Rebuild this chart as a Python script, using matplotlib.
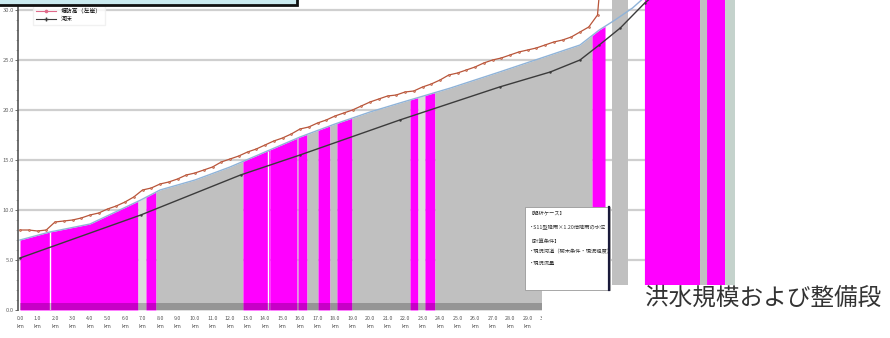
import numpy as np
import matplotlib
matplotlib.use("Agg")
import matplotlib.pyplot as plt
from matplotlib.patches import Rectangle
from matplotlib.lines import Line2D

plt.rcParams['font.family'] = ['Noto Sans CJK JP', 'DejaVu Sans']

# Computed water level along the channel (distance km, elevation m)
water_km = [0.0, 0.5, 1.0, 1.5, 2.0, 2.5, 3.0, 3.5, 4.0, 4.5, 5.0, 5.5, 6.0, 6.5,
            7.0, 7.5, 8.0, 8.5, 9.0, 9.5, 10.0, 10.5, 11.0, 11.5, 12.0, 12.5,
            13.0, 13.5, 14.0, 14.5, 15.0, 15.5, 16.0, 16.5, 17.0, 17.5, 18.0,
            18.5, 19.0, 19.5, 20.0, 20.5, 21.0, 21.5, 22.0, 22.5, 23.0, 23.5,
            24.0, 24.5, 25.0, 25.5, 26.0, 26.5, 27.0, 27.5, 28.0, 28.5, 29.0,
            29.5, 30.0, 30.5, 31.0, 31.5, 32.0, 32.5, 33.0, 33.1]
water_level = [8.0, 8.0, 7.9, 8.0, 8.8, 8.9, 9.0, 9.2, 9.5, 9.7, 10.1, 10.4, 10.8,
               11.3, 12.0, 12.2, 12.6, 12.8, 13.1, 13.5, 13.7, 14.0, 14.3, 14.8,
               15.1, 15.4, 15.8, 16.1, 16.5, 16.9, 17.2, 17.6, 18.1, 18.3, 18.7,
               19.0, 19.4, 19.7, 20.0, 20.4, 20.8, 21.1, 21.4, 21.5, 21.8, 21.9,
               22.3, 22.6, 23.0, 23.5, 23.7, 24.0, 24.3, 24.7, 25.0, 25.2, 25.5,
               25.8, 26.0, 26.2, 26.5, 26.8, 27.0, 27.3, 27.8, 28.3, 29.5, 31.5]

# Bank crest / flow section top
bank_km = [0.0, 1.7, 2.0, 4.0, 6.9, 8.0, 10.0, 12.0, 14.0, 16.0, 18.0, 20.0, 21.7,
           24.6, 27.4, 30.3, 32.0, 33.1, 34.0, 35.0, 35.9, 37.0, 41.0]
bank_level = [7.0, 7.8, 7.9, 8.6, 11.0, 12.0, 13.0, 14.3, 15.8, 17.3, 18.6, 19.8,
              20.7, 22.2, 23.8, 25.5, 26.5, 28.0, 29.0, 30.2, 31.6, 33.5, 36.0]

# Planned water level
plan_km = [0.0, 6.9, 12.6, 16.0, 21.7, 27.4, 30.3, 32.0, 33.1, 34.3, 35.7, 36.6]
plan_level = [5.2, 9.5, 13.5, 15.5, 19.0, 22.3, 23.8, 25.0, 26.5, 28.2, 30.7, 32.0]

# Section classes: start km, end km, class
band_start = [0.0, 6.74, 7.20, 7.77, 12.74, 14.29, 15.83, 15.89, 16.40, 17.03,
              17.71, 18.11, 18.97, 22.29, 22.74, 23.14, 23.71, 32.69, 33.43,
              33.83, 34.74, 35.71, 38.86, 39.26, 40.29]
band_end = [6.74, 7.20, 7.77, 12.74, 14.29, 15.83, 15.89, 16.40, 17.03, 17.71,
            18.11, 18.97, 22.29, 22.74, 23.14, 23.71, 32.69, 33.43, 33.83, 34.74,
            35.71, 38.86, 39.26, 40.29, 40.86]
band_class = ['over', 'pale', 'over', 'ok', 'over', 'over', 'ok', 'over', 'ok',
              'over', 'ok', 'over', 'ok', 'over', 'pale', 'over', 'ok', 'over',
              'none', 'ok_full', 'none', 'over', 'ok', 'over', 'edge']
band_breaks = [1.71, 14.17]

y_ticks = [0, 5, 10, 15, 20, 25, 30]
y_tick_labels = ["0.0", "5.0", "10.0", "15.0", "20.0", "25.0", "30.0"]
x_ticks = list(range(0, 41))
x_tick_labels = [f"{k:.1f}\nkm" for k in x_ticks]

band_colors = {'over': '#ff00ff', 'ok': '#c0c0c0', 'ok_full': '#c0c0c0',
               'pale': '#dcdcdc', 'edge': '#c4d2cc'}

W, H = 890, 338
fig = plt.figure(figsize=(W / 100, H / 100), dpi=100)
fig.patch.set_facecolor('white')


def fx(px):
    return px / W


def fy(py):
    return 1 - py / H


ax = fig.add_axes([fx(18), fy(310), fx(735) - fx(18), 350 / H])
ax.set_xlim(-2 / 17.5, 715 / 17.5)
ax.set_ylim(0, 35)
ax.set_facecolor('white')

for yv in y_ticks[1:]:
    ax.axhline(yv, color='#cfcfcf', lw=1.6, zorder=0)

for s, e, c in zip(band_start, band_end, band_class):
    if c == 'none':
        continue
    xs = np.linspace(s, e, 40)
    if c == 'ok_full':
        top = np.full_like(xs, 35.0)
    else:
        top = np.interp(xs, bank_km, bank_level)
    ax.fill_between(xs, 0, top, color=band_colors[c], lw=0, zorder=1)

for b in band_breaks:
    ax.vlines(b, 0, np.interp(b, bank_km, bank_level), color='white', lw=1.0, zorder=2)

# darker strip along the channel bottom
ax.fill_between([0, 31.4], 0, 0.7, color='black', alpha=0.22, lw=0, zorder=2)

ax.plot(bank_km, bank_level, color='#8fb3d8', lw=1.0, zorder=3)
ax.plot(plan_km, plan_level, color='#3b3b3b', lw=1.0, marker='.', ms=1.5, zorder=4)
ax.plot(water_km, water_level, color='#b8553a', lw=0.9, marker='o', ms=1.4,
        mfc='#d98a70', mec='#b8553a', mew=0.4, zorder=5)
ax.plot([water_km[-1]] * 2, [water_level[-1], 35], ls=':', color='#b8553a', lw=0.9, zorder=5)

for side in ['top', 'right', 'bottom']:
    ax.spines[side].set_visible(False)
ax.spines['left'].set_color('#555555')
ax.spines['left'].set_linewidth(1.2)

ax.set_yticks(y_ticks)
ax.set_yticklabels(y_tick_labels, fontsize=4.2, color='#666666')
ax.set_yticks(np.arange(0, 35, 1), minor=True)
ax.tick_params(axis='y', which='major', length=2, width=0.6, color='#555555', pad=1)
ax.tick_params(axis='y', which='minor', length=1.2, width=0.4, color='#777777')
ax.set_xticks(x_ticks)
ax.set_xticklabels(x_tick_labels, fontsize=3.8, color='#555555', linespacing=1.8)
ax.tick_params(axis='x', length=0, pad=4)

leg_handles = [
    Line2D([], [], color='#e06a8a', lw=0.8, marker='o', ms=1.6, mfc='none'),
    Line2D([], [], color='#3b3b3b', lw=0.8, marker='+', ms=2.5),
]
fig.legend(leg_handles, ['堤防高（左岸）', '河床'], loc='upper left',
           bbox_to_anchor=(fx(30), fy(2)), fontsize=4.2, frameon=True,
           edgecolor='#eeeeee', fancybox=False, handlelength=3.5,
           borderpad=0.5, labelspacing=0.5)

# heading frame across the top-left
fig.patches.append(Rectangle((fx(-5), fy(5)), fx(302), 20 / H, transform=fig.transFigure,
                             facecolor='#c9e9ee', edgecolor='#111111', lw=2.0, zorder=10))

# note box
fig.patches.append(Rectangle((fx(525), fy(290)), fx(85), 83 / H, transform=fig.transFigure,
                             facecolor='white', edgecolor='#999999', lw=0.6, zorder=10))
fig.add_artist(Line2D([fx(609), fx(609)], [fy(290), fy(207)], color='#1a1a3a', lw=1.6,
                      transform=fig.transFigure, zorder=11))
note_lines = [('【解析ケース】', 213), ('・S11型降雨×1.20倍降雨の水位', 227),
              ('【計算条件】', 241), ('・現況河道（樹木条件・現況粗度）', 252),
              ('・現況流量', 263)]
for t, yy in note_lines:
    fig.text(fx(529), fy(yy), t, fontsize=3.8, color='#333333', va='center',
             ha='left', zorder=12)

# white panel with caption at the bottom right
fig.patches.append(Rectangle((fx(542), fy(338)), fx(360), 53 / H, transform=fig.transFigure,
                             facecolor='white', edgecolor='none', zorder=9))
fig.text(fx(645), fy(298), '洪水規模および整備段', fontsize=17,
         color='#333333', va='center', ha='left', zorder=12)

fig.savefig('out.png', dpi=100)
